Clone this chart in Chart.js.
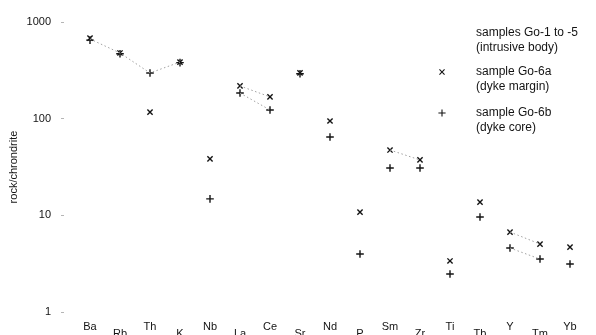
<!DOCTYPE html>
<html>
<head>
<meta charset="utf-8">
<script src="https://cdn.jsdelivr.net/npm/chart.js@4/dist/chart.umd.min.js"></script>
<style>
  html, body { margin: 0; padding: 0; background: #fff; }
  #wrap { width: 596px; height: 335px; position: relative; }
</style>
</head>
<body>
<div id="wrap"><canvas id="c" width="596" height="335"></canvas></div>
<script>
// Chondrite-normalised trace element pattern (spider diagram)
const categories = ['Ba','Rb','Th','K','Nb','La','Ce','Sr','Nd','P','Sm','Zr','Ti','Tb','Y','Tm','Yb'];

// sample Go-6a (dyke margin)
const go6a = [680, 478, 117, 385, 38.3, 218, 168, 297, 94.6, 10.8, 47.4, 37.4, 3.37, 13.7, 6.72, 5.05, 4.70];
// sample Go-6b (dyke core)
const go6b = [650, 470, 297, 380, 14.8, 184, 123, 292, 64.6, 3.98, 30.9, 30.9, 2.47, 9.6, 4.59, 3.53, 3.14];
// samples Go-1 to -5 (intrusive body), envelope traces
const bodyUpper = [667, 478, 297, 385, null, 218, 168, null, null, null, 47.4, 37.4, null, null, 6.72, 5.05, null];
const bodyLower = [null, null, null, null, null, 184, 123, null, null, null, null, null, null, null, 4.59, 3.53, null];

const yTicks = [1, 10, 100, 1000];

const legendEntries = [
  { marker: null,       lines: ['samples Go-1 to -5', '(intrusive body)'], y: 33 },
  { marker: 'crossRot', lines: ['sample Go-6a', '(dyke margin)'],          y: 72 },
  { marker: 'cross',    lines: ['sample Go-6b', '(dyke core)'],            y: 113 }
];

const FONT = '"Liberation Sans", Arial, sans-serif';
const INK = '#141414';

const toPoints = arr => arr.map((v, i) => ({ x: i, y: v }));

function drawMarker(ctx, style, x, y, r) {
  ctx.save();
  ctx.strokeStyle = INK;
  ctx.lineWidth = 1.1;
  ctx.beginPath();
  if (style === 'cross') {
    ctx.moveTo(x - r, y); ctx.lineTo(x + r, y);
    ctx.moveTo(x, y - r); ctx.lineTo(x, y + r);
  } else {
    const d = r * Math.SQRT1_2;
    ctx.moveTo(x - d, y - d); ctx.lineTo(x + d, y + d);
    ctx.moveTo(x - d, y + d); ctx.lineTo(x + d, y - d);
  }
  ctx.stroke();
  ctx.restore();
}

const labelsAndLegend = {
  id: 'labelsAndLegend',
  afterDraw(chart) {
    const ctx = chart.ctx;
    const xs = chart.scales.x;
    const bottom = chart.chartArea.bottom;
    ctx.save();
    ctx.fillStyle = INK;
    ctx.font = '11px ' + FONT;
    ctx.textAlign = 'center';
    ctx.textBaseline = 'middle';
    categories.forEach((c, i) => {
      const px = xs.getPixelForValue(i);
      const py = bottom + (i % 2 === 0 ? 14.5 : 21.5);
      ctx.fillText(c, px, py);
    });

    ctx.font = '12px ' + FONT;
    ctx.textAlign = 'left';
    legendEntries.forEach(e => {
      if (e.marker) drawMarker(ctx, e.marker, 442, e.y, 3.6);
      e.lines.forEach((t, k) => ctx.fillText(t, 476, e.y + k * 15));
    });
    ctx.restore();
  }
};

const bodyStyle = {
  borderColor: '#a0a0a0',
  borderWidth: 1,
  borderDash: [1.5, 2.5],
  pointRadius: 0,
  pointHoverRadius: 0,
  showLine: true,
  spanGaps: false,
  fill: false
};

new Chart(document.getElementById('c'), {
  type: 'scatter',
  data: {
    datasets: [
      Object.assign({ label: 'samples Go-1 to -5 (intrusive body)', data: toPoints(bodyUpper) }, bodyStyle),
      Object.assign({ label: 'samples Go-1 to -5 (intrusive body) ', data: toPoints(bodyLower) }, bodyStyle),
      {
        label: 'sample Go-6a (dyke margin)',
        data: toPoints(go6a),
        pointStyle: 'crossRot',
        pointRadius: 3.7,
        pointBorderWidth: 1.4,
        pointBorderColor: INK,
        pointBackgroundColor: INK,
        showLine: false
      },
      {
        label: 'sample Go-6b (dyke core)',
        data: toPoints(go6b),
        pointStyle: 'cross',
        pointRadius: 3.8,
        pointBorderWidth: 1.4,
        pointBorderColor: INK,
        pointBackgroundColor: INK,
        showLine: false
      }
    ]
  },
  options: {
    responsive: false,
    animation: false,
    layout: { padding: { left: 0, right: 6, top: 22, bottom: 23 } },
    plugins: {
      legend: { display: false },
      tooltip: { enabled: false }
    },
    scales: {
      x: {
        type: 'linear',
        display: false,
        min: -26 / 30,
        max: 16 + 20 / 30
      },
      y: {
        type: 'logarithmic',
        min: 1,
        max: 1000,
        afterBuildTicks: scale => { scale.ticks = yTicks.map(v => ({ value: v })); },
        afterFit: scale => { scale.width = 64; },
        border: { display: false },
        grid: {
          drawOnChartArea: false,
          drawTicks: true,
          tickLength: 3,
          tickColor: '#b5b5b5',
          tickWidth: 1
        },
        ticks: {
          padding: 10,
          color: INK,
          font: { family: FONT, size: 11 },
          callback: v => String(v)
        },
        title: {
          display: true,
          text: 'rock/chrondrite',
          color: INK,
          font: { family: FONT, size: 11 },
          padding: { top: 7, bottom: 0 }
        }
      }
    }
  },
  plugins: [labelsAndLegend]
});
</script>
</body>
</html>
